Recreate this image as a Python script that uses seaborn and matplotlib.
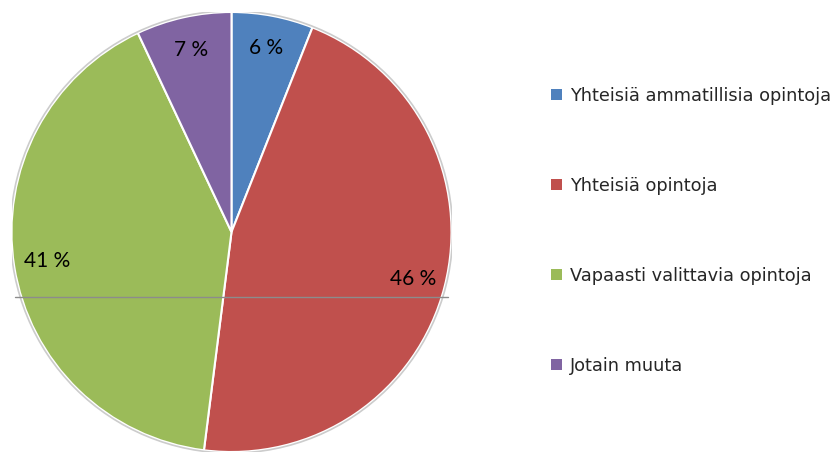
import matplotlib
matplotlib.use("Agg")
import matplotlib.pyplot as plt
import seaborn as sns
from matplotlib.patches import Patch

sns.set_style("white")

categories = ["Yhteisiä ammatillisia opintoja", "Yhteisiä opintoja",
              "Vapaasti valittavia opintoja", "Jotain muuta"]
values = [6, 46, 41, 7]
colors = ["#4F81BD", "#C0504D", "#9BBB59", "#8064A2"]

fig = plt.figure(figsize=(8.39, 4.53), dpi=100)
ax = fig.add_axes([11/839, 1/453, 441/839, 440/453])
wedges, texts, autotexts = ax.pie(
    values, colors=colors, startangle=90, counterclock=False,
    autopct=lambda p: f"{p:.0f} %", pctdistance=0.85,
    wedgeprops=dict(edgecolor="white", linewidth=1.5),
    textprops=dict(family="Lato", fontsize=15, color="black"),
)
circle = plt.Circle((0, 0), 1.005, fill=False, edgecolor="#cccccc", linewidth=1.2)
ax.add_patch(circle)
ax.set_xlim(-1.0, 1.0)
ax.set_ylim(-1.0, 1.0)
ax.set_aspect("equal")
ax.axis("off")
# horizontal gray rule crossing the pie
ax.plot([-0.985, 0.985], [-0.295, -0.295], color="#8c8c8c", linewidth=1.0, zorder=5)

handles = [Patch(facecolor=c, edgecolor="none") for c in colors]
fig.legend(handles, categories, loc="upper left", bbox_to_anchor=(544/839, 1 - 80/453),
           frameon=False, prop=dict(family="DejaVu Sans", size=12.8),
           handlelength=0.6, handleheight=0.6, handletextpad=0.45,
           labelspacing=4.05, borderaxespad=0)

fig.savefig("out.png", dpi=100)
